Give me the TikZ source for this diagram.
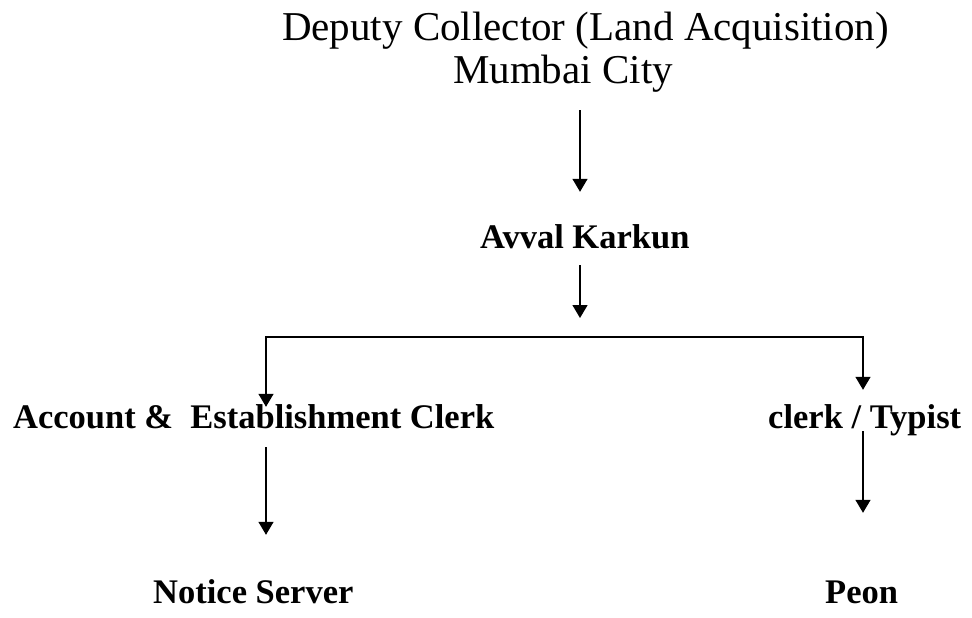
\documentclass[tikz,border=0pt]{standalone}
\usepackage{fontspec}
\setmainfont{Liberation Serif}
\usetikzlibrary{arrows.meta}
\begin{document}
\begin{tikzpicture}[x=1pt,y=-1pt,
  arr/.style={line width=1.4pt,-{Triangle[width=15pt,length=13pt]}},
  ttl/.style={font=\fontsize{41}{49}\selectfont,inner sep=0pt,text height=29pt,text depth=9pt,anchor=base},
  lbl/.style={font=\fontsize{34.5}{41}\selectfont\bfseries,inner sep=0pt,text height=24pt,text depth=8pt,anchor=base west}]
\useasboundingbox (0,0) rectangle (972,618);
\node[ttl] (t1) at (585.5,41) {Deputy Collector (Land Acquisition)};
\node[ttl] (t2) at (563,84) {Mumbai City};
\node[lbl] (avval) at (480,248) {Avval Karkun};
\node[lbl] (acc) at (13,428) {Account \&~ Establishment Clerk};
\node[lbl] (ct) at (768,428) {clerk / Typist};
\node[lbl] (ns) at (153,603) {Notice Server};
\node[lbl] (peon) at (825,603) {Peon};
\coordinate (c1) at (580,0);
\coordinate (hub) at (580,337);
\coordinate (L) at (266,337);
\coordinate (R) at (863,337);
\draw[arr,shorten <=17pt,shorten >=32pt] (t2.south -| c1) -- (avval.north -| c1);
\draw[arr,shorten <=9pt,shorten >=19pt] (avval.south -| c1) -- (hub);
\draw[arr] (R) -- (L) -- ([yshift=-3pt]acc.north -| L);
\draw[arr,shorten >=14pt] (L) -- (R) -- (ct.north -| R);
\draw[arr,shorten <=11pt,shorten >=44pt] (acc.south -| L) -- (ns.north -| L);
\draw[arr,shorten <=-5pt,shorten >=66pt] (ct.south -| R) -- (peon.north -| R);
\end{tikzpicture}
\end{document}
